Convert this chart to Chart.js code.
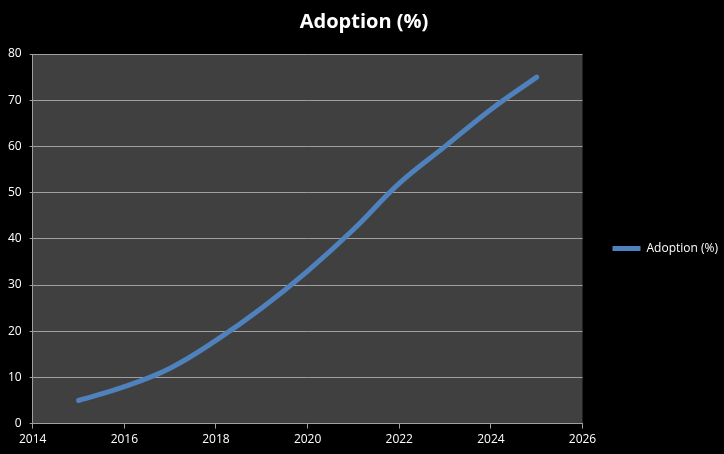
<!DOCTYPE html>
<html>
<head>
<meta charset="utf-8">
<script src="https://cdn.jsdelivr.net/npm/chart.js@4"></script>
<style>
  html, body { margin: 0; padding: 0; background: #000; }
  #wrap { width: 724px; height: 454px; }
</style>
</head>
<body>
<div id="wrap"><canvas id="grafico"></canvas></div>
<script>
const years = [2015, 2016, 2017, 2018, 2019, 2020, 2021, 2022, 2023, 2024, 2025];
const adoption = [5, 8, 12, 18, 25, 33, 42, 52, 60, 68, 75];
const seriesName = "Adoption (%)";

// fundo cinza da área de plotagem
const plotBg = {
  id: "plotBg",
  beforeDraw(chart) {
    const { ctx, chartArea: a } = chart;
    ctx.save();
    ctx.fillStyle = "#404040";
    ctx.fillRect(a.left, a.top, a.right - a.left, a.bottom - a.top);
    ctx.restore();
  },
};

const ctx = document.getElementById("grafico").getContext("2d");
Chart.defaults.font.family = "'Open Sans', 'Liberation Sans', sans-serif";
Chart.defaults.color = "#ffffff";

new Chart(ctx, {
  type: "line",
  data: {
    datasets: [
      {
        label: seriesName,
        data: years.map((y, i) => ({ x: y, y: adoption[i] })),
        borderColor: "#4f81bd",
        backgroundColor: "#4f81bd",
        borderWidth: 5,
        borderCapStyle: "round",
        pointRadius: 0,
        tension: 0.4,
      },
    ],
  },
  options: {
    responsive: true,
    maintainAspectRatio: false,
    animation: false,
    layout: { padding: { top: 4, left: 0, right: -4, bottom: 3 } },
    plugins: {
      title: {
        display: true,
        text: seriesName,
        color: "#ffffff",
        font: { size: 20, weight: "bold" },
        padding: { top: 6, bottom: 20 },
      },
      legend: {
        position: "right",
        // título vazio só para descer a legenda
        title: { display: true, text: " ", font: { size: 10 }, padding: 15 },
        labels: {
          usePointStyle: true,
          pointStyle: "line",
          pointStyleWidth: 28,
          color: "#ffffff",
          font: { size: 12 },
          padding: 30,
        },
      },
      tooltip: { enabled: false },
    },
    scales: {
      x: {
        type: "linear",
        min: 2014,
        max: 2026,
        ticks: {
          stepSize: 2,
          color: "#ffffff",
          font: { size: 12 },
          padding: 4,
          callback: (v) => String(v),
        },
        grid: { display: true, drawOnChartArea: false, color: "#a0a0a0", tickLength: 5 },
        border: { color: "#a0a0a0" },
      },
      y: {
        min: 0,
        max: 80,
        ticks: { stepSize: 10, color: "#ffffff", font: { size: 12 }, padding: 8 },
        grid: { color: "#a0a0a0", tickLength: 3 },
        border: { color: "#a0a0a0" },
      },
    },
  },
  plugins: [plotBg],
});
</script>
</body>
</html>
